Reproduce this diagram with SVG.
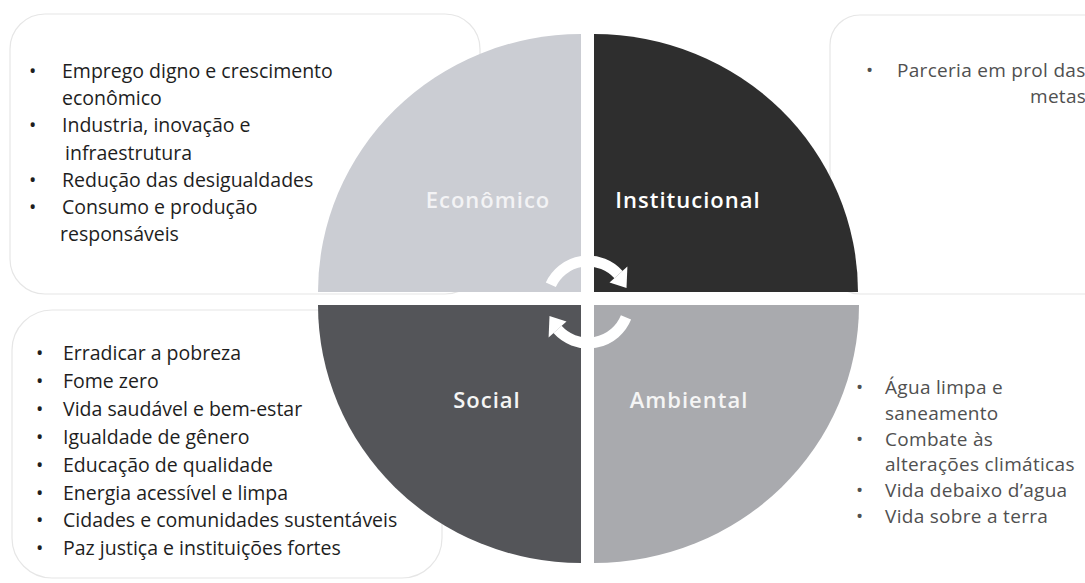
<svg xmlns="http://www.w3.org/2000/svg" width="1085" height="583" viewBox="0 0 1085 583">
<style>
.box{fill:none;stroke:#e6e6e6;stroke-width:1.2}
.lt{font-family:"Open Sans","Noto Sans",sans-serif;font-size:19.5px;fill:#1e1e1e}
.rt{font-family:"Open Sans","Noto Sans",sans-serif;font-size:19px;fill:#505050;letter-spacing:0.3px}
.lbl{font-family:"Open Sans","Noto Sans",sans-serif;font-size:22px;font-weight:600;letter-spacing:1px;text-anchor:middle}
.arr{fill:none;stroke:#ffffff;stroke-width:11}
.ah{fill:#ffffff}
</style>
<rect width="1085" height="583" fill="#ffffff"/>
<g id="box-economico">
<rect class="box" x="10" y="14" width="470" height="280" rx="35"/>
<text class="lt" x="29" y="78">•</text>
<text class="lt" x="62" y="78">Emprego digno e crescimento</text>
<text class="lt" x="62" y="105">econômico</text>
<text class="lt" x="29" y="132">•</text>
<text class="lt" x="62" y="132">Industria, inovação e</text>
<text class="lt" x="65" y="160">infraestrutura</text>
<text class="lt" x="29" y="187">•</text>
<text class="lt" x="62" y="187">Redução das desigualdades</text>
<text class="lt" x="29" y="214">•</text>
<text class="lt" x="62" y="214">Consumo e produção</text>
<text class="lt" x="60" y="241">responsáveis</text>
</g>
<g id="box-institucional">
<rect class="box" x="830" y="15" width="300" height="279" rx="30"/>
<text class="rt" x="866" y="77">•</text>
<text class="rt" x="897" y="77">Parceria em prol das</text>
<text class="rt" x="1030" y="103">metas</text>
</g>
<g id="box-social">
<rect class="box" x="12" y="310" width="430" height="268" rx="40"/>
<text class="lt" x="36" y="360">•</text>
<text class="lt" x="63" y="360">Erradicar a pobreza</text>
<text class="lt" x="36" y="388">•</text>
<text class="lt" x="63" y="388">Fome zero</text>
<text class="lt" x="36" y="416">•</text>
<text class="lt" x="63" y="416">Vida saudável e bem-estar</text>
<text class="lt" x="36" y="444">•</text>
<text class="lt" x="63" y="444">Igualdade de gênero</text>
<text class="lt" x="36" y="472">•</text>
<text class="lt" x="63" y="472">Educação de qualidade</text>
<text class="lt" x="36" y="500">•</text>
<text class="lt" x="63" y="500">Energia acessível e limpa</text>
<text class="lt" x="36" y="527">•</text>
<text class="lt" x="63" y="527">Cidades e comunidades sustentáveis</text>
<text class="lt" x="36" y="555">•</text>
<text class="lt" x="63" y="555">Paz justiça e instituições fortes</text>
</g>
<g id="q-economico">
<path d="M581,292 L318,292 A263,258 0 0 1 581,34 Z" fill="#cbcdd3"/>
<text class="lbl" x="488" y="208" fill="#f3f3f5">Econômico</text>
</g>
<g id="q-institucional">
<path d="M594,292 L594,34 A264,258 0 0 1 858,292 Z" fill="#2e2e2e"/>
<text class="lbl" x="688" y="208" fill="#ffffff">Institucional</text>
</g>
<g id="q-social">
<path d="M581,305 L581,563 A263,258 0 0 1 318,305 Z" fill="#545559"/>
<text class="lbl" x="487" y="408" fill="#f5f5f5">Social</text>
</g>
<g id="q-ambiental">
<path d="M594,305 L859,305 A265,258 0 0 1 594,563 Z" fill="#a9aaae"/>
<text class="lbl" x="689" y="408" fill="#f5f5f5">Ambiental</text>
</g>
<g id="box-ambiental">
<text class="rt" x="856" y="394">•</text>
<text class="rt" x="885" y="394">Água limpa e</text>
<text class="rt" x="885" y="420">saneamento</text>
<text class="rt" x="856" y="446">•</text>
<text class="rt" x="885" y="446">Combate às</text>
<text class="rt" x="885" y="471">alterações climáticas</text>
<text class="rt" x="856" y="497">•</text>
<text class="rt" x="885" y="497">Vida debaixo d’agua</text>
<text class="rt" x="856" y="523">•</text>
<text class="rt" x="885" y="523">Vida sobre a terra</text>
</g>
<g id="connectors">
<path class="arr" d="M550.8,284.7 A41,41 0 0 1 618.5,274.6"/>
<polygon class="ah" points="609.5,282.6 627.4,266.5 626.5,288.0"/>
<path class="arr" d="M626.0,317.4 A41,41 0 0 1 557.5,329.4"/>
<polygon class="ah" points="566.5,321.4 548.6,337.5 549.5,316.0"/>
</g>
</svg>
